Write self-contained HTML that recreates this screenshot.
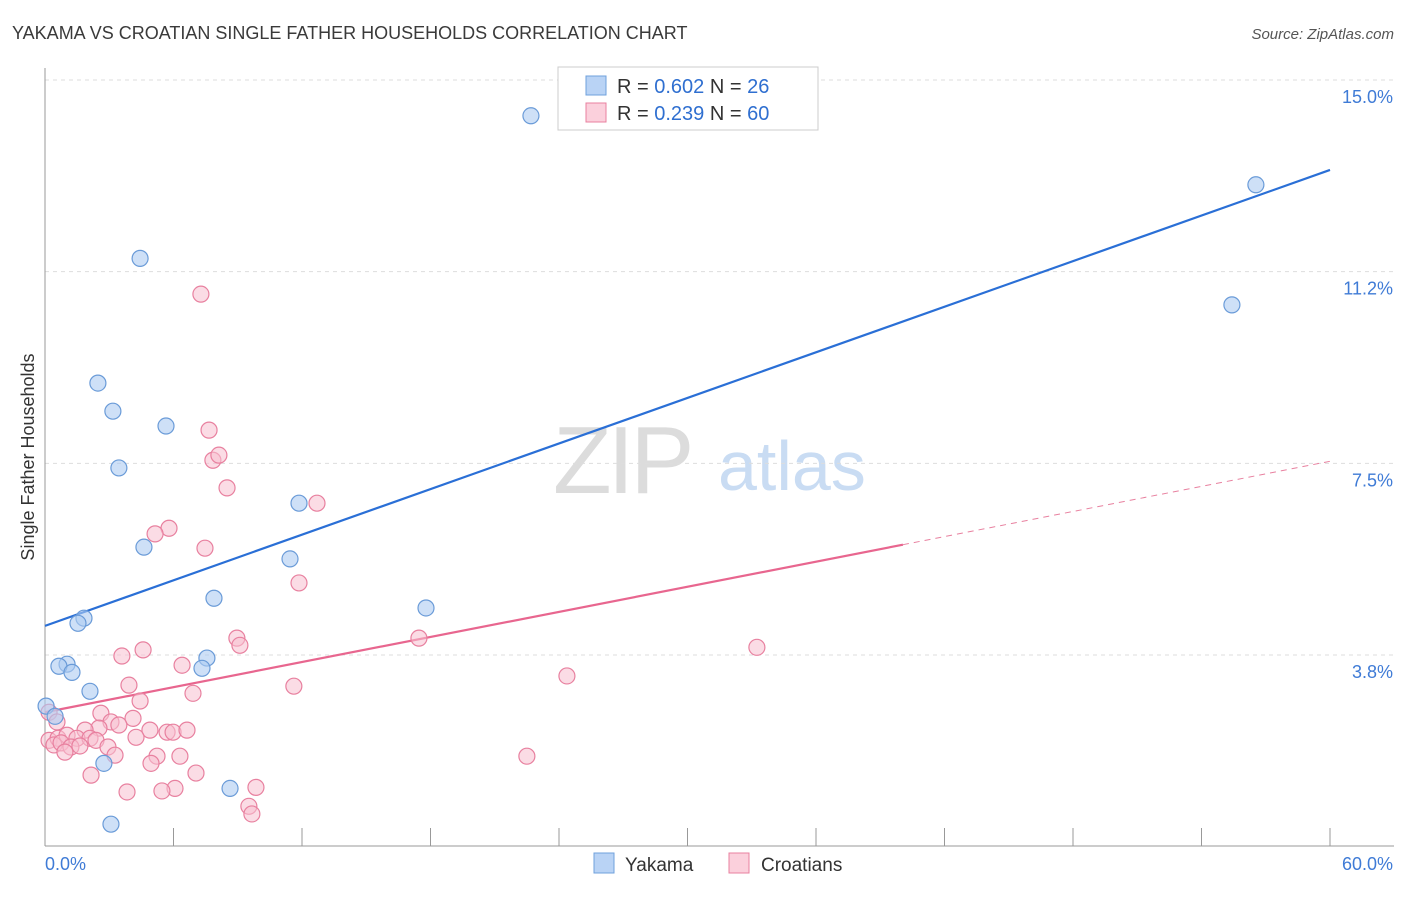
<!DOCTYPE html>
<html><head><meta charset="utf-8"><style>
body{margin:0;background:#fff;font-family:"Liberation Sans",sans-serif;}
svg text{font-family:"Liberation Sans",sans-serif;}
</style></head><body>
<svg id="chart" width="1406" height="892" viewBox="0 0 1406 892" xmlns="http://www.w3.org/2000/svg">
<text x="12" y="39" font-size="18" fill="#3a3a3a">YAKAMA VS CROATIAN SINGLE FATHER HOUSEHOLDS CORRELATION CHART</text>
<text x="1394" y="39" font-size="15" fill="#555" text-anchor="end" font-style="italic">Source: ZipAtlas.com</text>
<g>
<text x="553" y="493" font-size="96" fill="#dcdcdc" font-family="Liberation Serif" letter-spacing="-4">ZIP</text>
<text x="718" y="490" font-size="70" fill="#c9dcf3">atlas</text>
</g>
<g id="grid"></g>
<line x1="45" y1="68" x2="45" y2="846" stroke="#999" stroke-width="1"/>
<line x1="45" y1="846" x2="1394" y2="846" stroke="#999" stroke-width="1"/>
<g id="xticks"></g>
<g id="ylabels"></g>
<text x="45" y="870" font-size="18" fill="#3f7bd6">0.0%</text>
<text x="1393" y="870" font-size="18" fill="#3f7bd6" text-anchor="end">60.0%</text>
<text transform="translate(34,457) rotate(-90)" font-size="18" fill="#333" text-anchor="middle">Single Father Households</text>
<g id="lines"></g>
<g id="points"></g>
<g>
<rect x="558" y="67" width="260" height="63" fill="#fff" stroke="#ccc"/>
<rect x="586" y="76" width="20" height="19" fill="#b9d3f5" stroke="#6fa0dc"/>
<text x="617" y="93" font-size="20" fill="#333">R = <tspan fill="#2f6fd0">0.602</tspan>   N = <tspan fill="#2f6fd0">26</tspan></text>
<rect x="586" y="103" width="20" height="19" fill="#fbd0dc" stroke="#e8809f"/>
<text x="617" y="120" font-size="20" fill="#333">R = <tspan fill="#2f6fd0">0.239</tspan>   N = <tspan fill="#2f6fd0">60</tspan></text>
</g>
<g>
<rect x="594" y="853" width="20" height="20" fill="#b9d3f5" stroke="#6fa0dc"/>
<text x="625" y="871" font-size="19" fill="#333">Yakama</text>
</g>
<g>
<rect x="729" y="853" width="20" height="20" fill="#fbd0dc" stroke="#e8809f"/>
<text x="761" y="871" font-size="19" fill="#333">Croatians</text>
</g>
</svg>
<script>
const yakamaX=[22.69,56.54,4.44,55.42,2.47,3.17,5.65,3.45,11.86,4.62,11.44,7.89,17.79,1.82,1.54,1.03,0.65,1.26,7.56,7.33,2.10,0.05,0.47,2.75,8.64,3.08];
const yakamaY=[14.30,12.95,11.51,10.60,9.07,8.52,8.23,7.41,6.72,5.86,5.63,4.86,4.67,4.47,4.37,3.57,3.53,3.41,3.69,3.49,3.04,2.75,2.55,1.63,1.14,0.44];
const croX=[7.28,7.66,7.84,8.12,8.50,12.70,5.79,5.14,7.47,11.86,8.96,9.10,17.46,33.24,3.59,4.58,6.40,3.92,6.91,11.62,24.37,4.44,0.19,0.56,2.61,4.11,3.08,3.45,2.52,1.87,5.70,5.98,6.63,4.90,0.19,0.61,1.03,1.49,2.10,0.42,0.75,1.21,1.63,2.38,4.25,2.94,0.93,3.27,5.23,6.30,4.95,22.50,7.05,2.15,6.07,5.46,3.83,9.85,9.52,9.66];
const croY=[10.81,8.15,7.56,7.66,7.02,6.72,6.23,6.12,5.84,5.16,4.08,3.94,4.08,3.90,3.73,3.85,3.55,3.16,3.00,3.14,3.34,2.85,2.63,2.44,2.61,2.51,2.44,2.38,2.32,2.28,2.24,2.24,2.28,2.28,2.08,2.12,2.18,2.12,2.12,1.99,2.03,1.95,1.97,2.08,2.14,1.95,1.85,1.79,1.77,1.77,1.63,1.77,1.44,1.40,1.14,1.09,1.07,1.16,0.79,0.64];
const yTicks=[15.0,11.25,7.5,3.75];
const yTickLabels=["15.0%","11.2%","7.5%","3.8%"];
const xTicks=[0,6,12,18,24,30,36,42,48,54,60];
const yakamaTrend=[4.32,13.24]; // value at x=0 and x=60
const croTrend=[2.63,7.54];
const croSolidEnd=40.06;

const NS="http://www.w3.org/2000/svg";
const sx=v=>45+v*(1285/60);
const sy=v=>80+(15-v)*(575/11.25);
function mk(tag,attrs,parent){const e=document.createElementNS(NS,tag);for(const k in attrs)e.setAttribute(k,attrs[k]);parent.appendChild(e);return e;}
const grid=document.getElementById('grid'),yl=document.getElementById('ylabels'),xt=document.getElementById('xticks');
yTicks.forEach((t,i)=>{
  const g=mk('line',{x1:45,x2:1394,y1:sy(t),y2:sy(t),stroke:'#ddd','stroke-dasharray':'4,4'},grid);
  
  
  const tx=mk('text',{x:1393,y:sy(t)+23,'font-size':18,fill:'#3f7bd6','text-anchor':'end'},yl);
  tx.textContent=yTickLabels[i];
  
  
});
xTicks.forEach(t=>{
  const l=mk('line',{x1:sx(t),x2:sx(t),y1:828,y2:846,stroke:'#999'},xt);
  
  
});
const lines=document.getElementById('lines');
const slope=(tr)=>(tr[1]-tr[0])/60;
let l1=mk('line',{x1:sx(0),y1:sy(yakamaTrend[0]),x2:sx(60),y2:sy(yakamaTrend[1]),stroke:'#2a6fd6','stroke-width':2.2},lines);


const ce=croTrend[0]+slope(croTrend)*croSolidEnd;
let l2=mk('line',{x1:sx(0),y1:sy(croTrend[0]),x2:sx(croSolidEnd),y2:sy(ce),stroke:'#e8668f','stroke-width':2.2},lines);


let l3=mk('line',{x1:sx(croSolidEnd),y1:sy(ce),x2:sx(60),y2:sy(croTrend[1]),stroke:'#e8809f','stroke-width':1,'stroke-dasharray':'6,5'},lines);


const pts=document.getElementById('points');
croX.forEach((x,i)=>{
  const c=mk('circle',{cx:sx(x),cy:sy(croY[i]),r:8,fill:'#f7bfd0','fill-opacity':0.55,stroke:'#e8809f','stroke-width':1.2},pts);
  
  
});
yakamaX.forEach((x,i)=>{
  const c=mk('circle',{cx:sx(x),cy:sy(yakamaY[i]),r:8,fill:'#aecbf2','fill-opacity':0.6,stroke:'#6a9bd8','stroke-width':1.2},pts);
  
  
});
</script>
</body></html>
